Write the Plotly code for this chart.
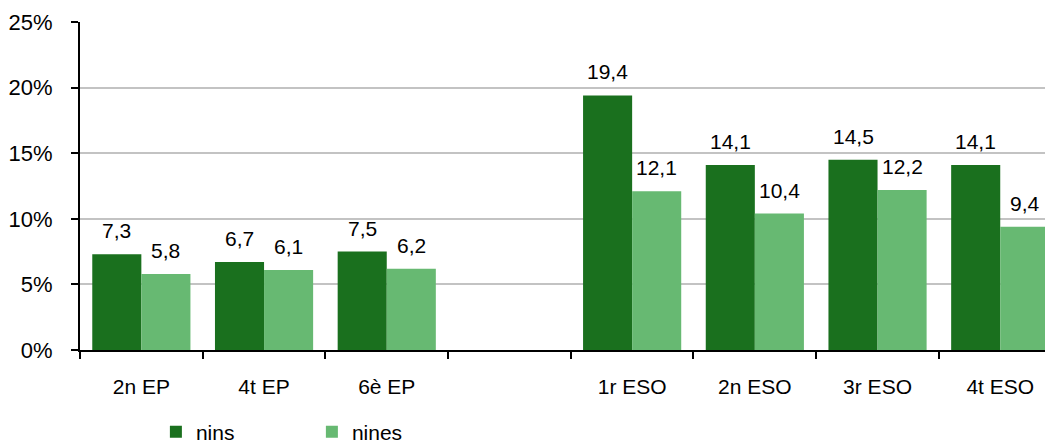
import plotly.graph_objects as go

categories = ["2n EP", "4t EP", "6è EP", " ", "1r ESO", "2n ESO", "3r ESO", "4t ESO"]
nins = [7.3, 6.7, 7.5, None, 19.4, 14.1, 14.5, 14.1]
nines = [5.8, 6.1, 6.2, None, 12.1, 10.4, 12.2, 9.4]
y_ticks = [0, 5, 10, 15, 20, 25]
y_tick_labels = ["0%", "5%", "10%", "15%", "20%", "25%"]

DARK = "#1a701e"
LIGHT = "#67b972"
FONT = "Liberation Sans"

fig = go.Figure()
fig.add_trace(go.Bar(name="nins", x=categories, y=nins, marker_color=DARK, marker_line_width=0))
fig.add_trace(go.Bar(name="nines", x=categories, y=nines, marker_color=LIGHT, marker_line_width=0))


def fmt(v):
    return f"{v:.1f}".replace(".", ",")


annotations = []
for series, shift in ((nins, -24.5), (nines, 24.5)):
    for c, v in zip(categories, series):
        if v is None:
            continue
        annotations.append(dict(
            x=c, y=v, xref="x", yref="y", text=fmt(v), showarrow=False,
            xanchor="center", yanchor="bottom", xshift=shift, yshift=10,
            font=dict(family=FONT, size=21, color="#000000"),
        ))

fig.update_layout(
    width=1045, height=440,
    margin=dict(l=72, r=0, t=14, b=98, autoexpand=False),
    paper_bgcolor="white", plot_bgcolor="white",
    barmode="group", bargap=0.2, bargroupgap=0,
    font=dict(family=FONT, size=21, color="#000000"),
    showlegend=True,
    legend=dict(orientation="h", x=0.078, y=-0.188, xanchor="left", yanchor="top",
                font=dict(family=FONT, size=21), entrywidth=111, entrywidthmode="pixels",
                bgcolor="rgba(0,0,0,0)"),
    annotations=annotations,
)
fig.update_xaxes(
    type="category", range=[-0.5, 7.43], automargin=False,
    showline=True, linecolor="#000000", linewidth=2,
    ticks="outside", tickson="boundaries", ticklen=7, tickwidth=2, tickcolor="#000000",
    showgrid=False, ticklabelstandoff=17,
    tickfont=dict(family=FONT, size=21),
)
fig.update_yaxes(
    range=[0, 25], tickvals=y_ticks, ticktext=y_tick_labels, automargin=False,
    showline=True, linecolor="#000000", linewidth=2,
    ticks="outside", ticklen=7, tickwidth=2, tickcolor="#000000",
    showgrid=True, gridcolor="#c3c3c3", gridwidth=2, zeroline=False,
    ticklabelstandoff=14,
    tickfont=dict(family=FONT, size=22),
)

fig.write_html("out.html")
